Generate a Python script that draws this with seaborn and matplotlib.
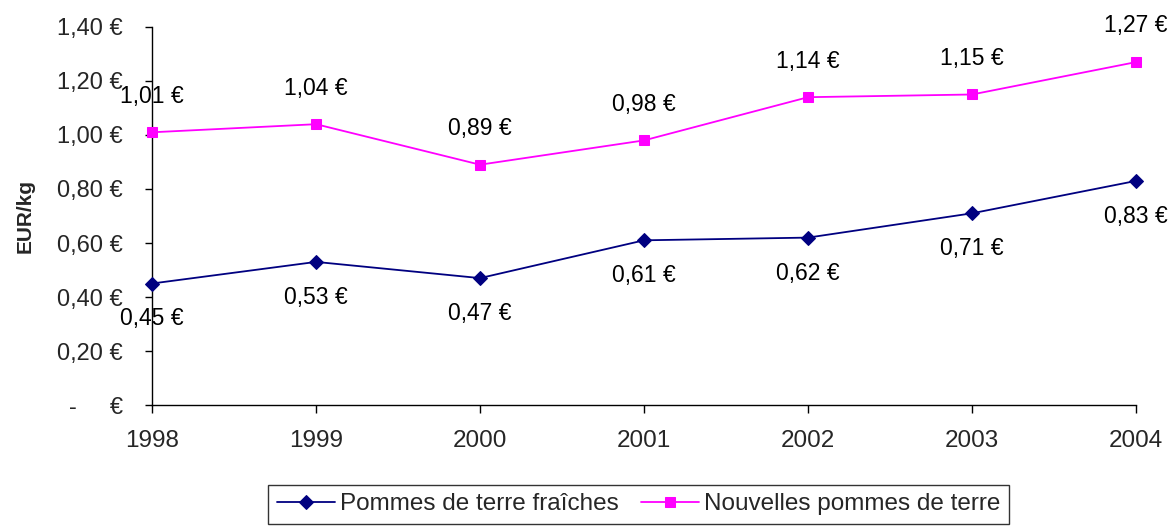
import matplotlib
matplotlib.use("Agg")
import matplotlib.pyplot as plt
import seaborn as sns
import pandas as pd

years = [1998, 1999, 2000, 2001, 2002, 2003, 2004]
fraiches = [0.45, 0.53, 0.47, 0.61, 0.62, 0.71, 0.83]
nouvelles = [1.01, 1.04, 0.89, 0.98, 1.14, 1.15, 1.27]
series_names = ["Pommes de terre fraîches", "Nouvelles pommes de terre"]
y_ticks = [0.0, 0.2, 0.4, 0.6, 0.8, 1.0, 1.2, 1.4]
y_ticklabels = ["-     €", "0,20 €", "0,40 €", "0,60 €", "0,80 €", "1,00 €", "1,20 €", "1,40 €"]

sns.set_theme(style="white")
plt.rcParams["font.family"] = ["Liberation Sans", "DejaVu Sans"]
FS_TICK = 17
FS_XTICK = 17.5
FS_LABEL = 16.5
FS_LEG = 17.5

df = pd.DataFrame({
    "year": years * 2,
    "value": fraiches + nouvelles,
    "serie": [series_names[0]] * len(years) + [series_names[1]] * len(years),
})

fig = plt.figure(figsize=(11.73, 5.26), dpi=100)
ax = fig.add_axes([0.1296, 0.2300, 0.8389, 0.7187])

colors = {series_names[0]: "#000080", series_names[1]: "#FF00FF"}
markers = {series_names[0]: "D", series_names[1]: "s"}
msize = {series_names[0]: 7.5, series_names[1]: 7.5}

for name in series_names:
    sub = df[df["serie"] == name]
    sns.lineplot(data=sub, x="year", y="value", ax=ax, color=colors[name],
                 marker=markers[name], markersize=msize[name],
                 markeredgecolor=colors[name], linewidth=1.3,
                 label=name, clip_on=False, zorder=3)

def fmt(v):
    return f"{v:.2f}".replace(".", ",") + " €"

for x, v in zip(years, nouvelles):
    ax.annotate(fmt(v), (x, v), xytext=(0, 26), textcoords="offset points",
                ha="center", va="center", fontsize=FS_LABEL, color="black")
for x, v in zip(years, fraiches):
    ax.annotate(fmt(v), (x, v), xytext=(0, -25.5), textcoords="offset points",
                ha="center", va="center", fontsize=FS_LABEL, color="black")

ax.set_xlim(1998, 2004)
ax.set_ylim(0, 1.4)
ax.set_xticks(years)
ax.set_xticklabels([str(y) for y in years], fontsize=FS_XTICK)
ax.set_yticks(y_ticks)
ax.set_yticklabels(y_ticklabels, fontsize=FS_TICK)
ax.set_xlabel("")
ax.set_ylabel("EUR/kg", fontsize=15, fontweight="bold")
ax.yaxis.set_label_coords(-0.119, 0.5)

for s in ["top", "right"]:
    ax.spines[s].set_visible(False)
for s in ["left", "bottom"]:
    ax.spines[s].set_color("black")
    ax.spines[s].set_linewidth(1.0)

ax.tick_params(axis="y", direction="out", length=5, width=1, color="black", pad=16, left=True)
ax.tick_params(axis="x", direction="out", length=6, width=1, color="black", pad=12, bottom=True)

ax.get_legend().remove()
handles, labels = ax.get_legend_handles_labels()
leg = fig.legend(handles, labels, loc="upper center", bbox_to_anchor=(0.5443, 0.078),
                 ncol=2, frameon=True, fancybox=False, shadow=False,
                 prop={"size": FS_LEG},
                 edgecolor="black", handlelength=2.4, handletextpad=0.2,
                 columnspacing=0.9, borderpad=0.35, borderaxespad=0)
leg.get_frame().set_linewidth(1.0)

fig.savefig("out.png", dpi=100)
